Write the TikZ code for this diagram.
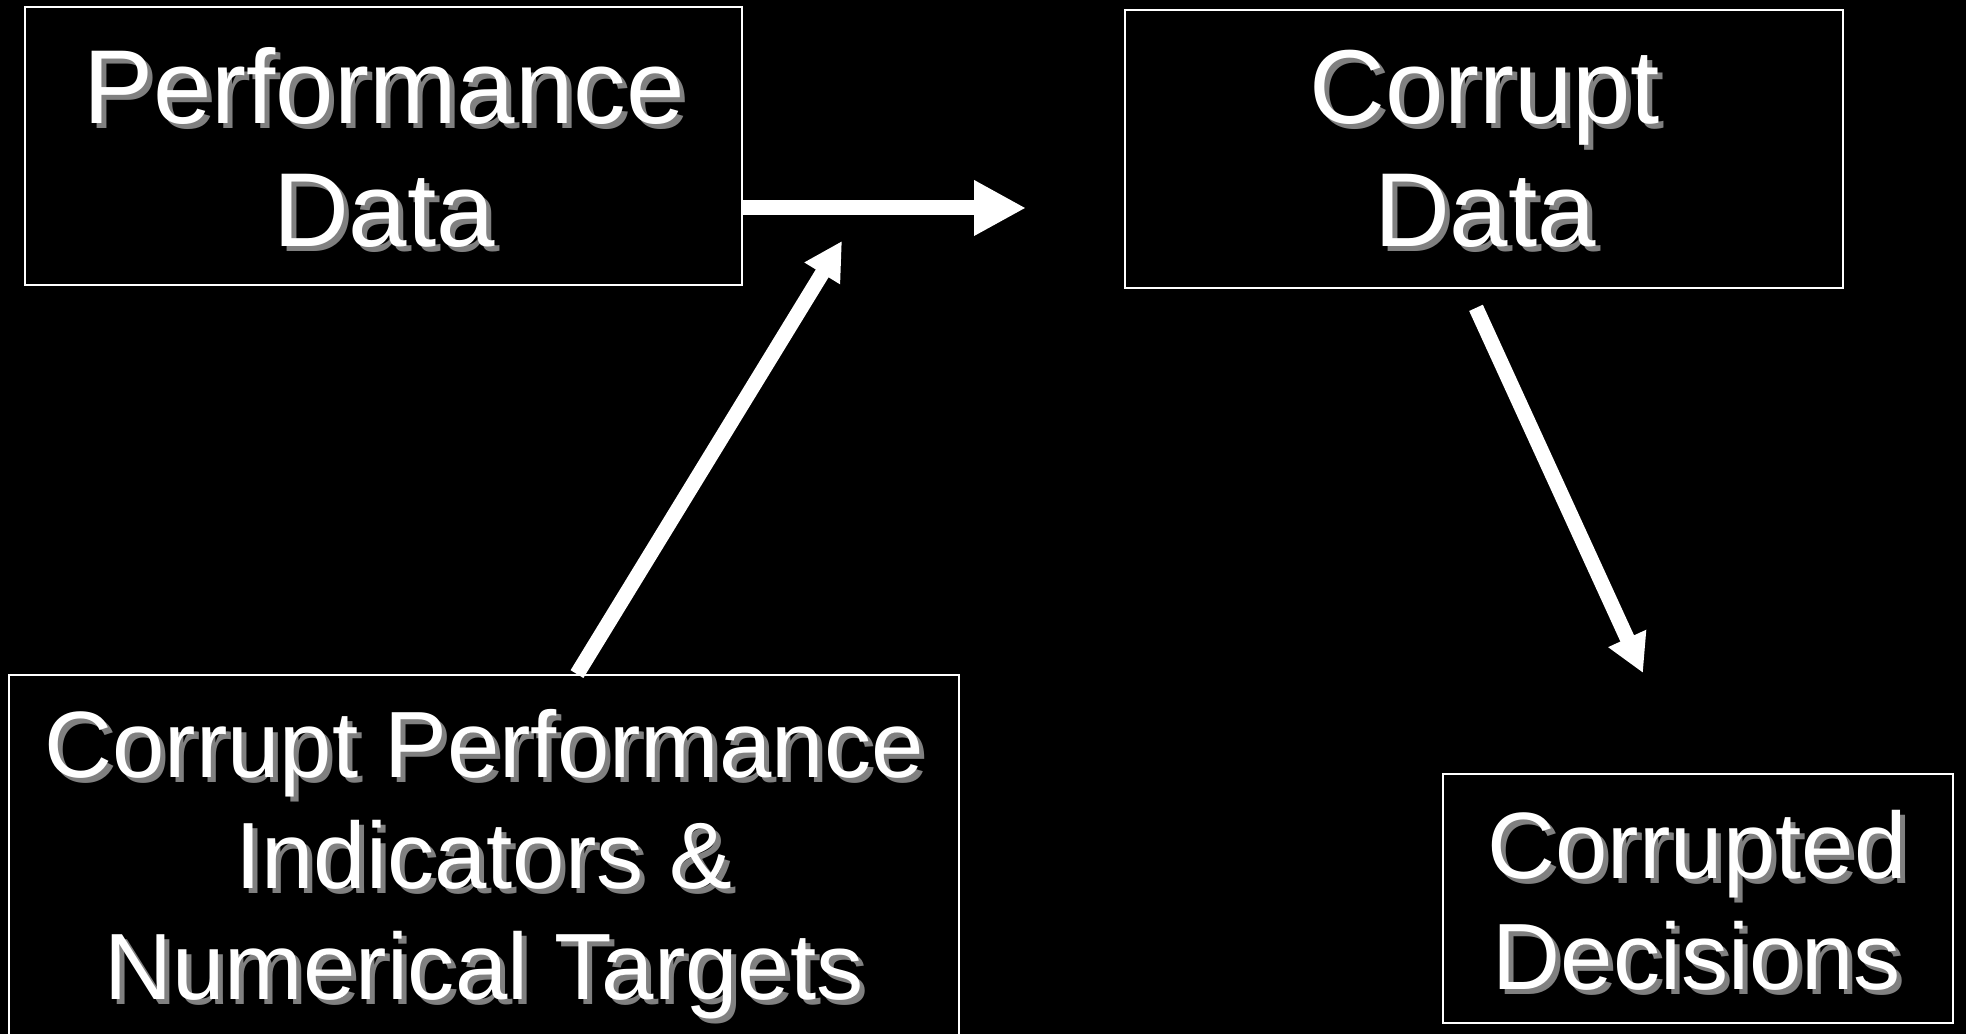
\documentclass[tikz,border=0pt]{standalone}
\usepackage{fontspec}
\setmainfont{Liberation Sans}
\usetikzlibrary{calc,arrows.meta}
\definecolor{shadowgray}{RGB}{128,128,128}
\newcommand\topsize{\fontsize{29.9}{35}\selectfont}
\newcommand\lowsize{\fontsize{26.8}{31.6}\selectfont}
\def\shadowtext(#1)(#2)[#3]#4{\node[txt, text=shadowgray, font=#3] (#2shadow) at ($(#1)+(0.05,-0.05)$) {#4}; \node[txt, font=#3] (#2) at (#1) {#4};}
\tikzset{
	box/.style={draw=white, line width=0.5pt, inner sep=0pt},
	txt/.style={text=white, align=center, inner sep=0pt},
	bigarrow/.style={draw=white, line width=0.15cm, -{Triangle[length=0.52cm, width=0.52cm]}},
	slantarrow/.style={draw=white, line width=0.15cm, -{Triangle[length=0.38cm, width=0.39cm]}}
}

\begin{document}
\begin{tikzpicture}
			%%%%% START %%%%%
			
			\fill[black] (0, 0) rectangle (19.66, 10.34);
			\clip (0, 0) rectangle (19.66, 10.34);
			
			\node[box, minimum width=7.17cm, minimum height=2.78cm] (pdata) at (3.835, 8.88) {};
			\shadowtext(3.84, 8.86)(pdatatext)[\topsize]{Performance\\Data}
			
			\node[box, minimum width=7.18cm, minimum height=2.78cm] (cdata) at (14.84, 8.85) {};
			\shadowtext(14.85, 8.85)(cdatatext)[\topsize]{Corrupt\\Data}
			
			\node[box, minimum width=9.50cm, minimum height=4.0cm] (cpi) at (4.84, 1.59) {};
			\shadowtext(4.84, 1.70)(cpitext)[\lowsize]{Corrupt Performance\\Indicators \&\\Numerical Targets}
			
			\node[box, minimum width=5.10cm, minimum height=2.49cm] (cdec) at (16.98, 1.355) {};
			\shadowtext(16.97, 1.34)(cdectext)[\lowsize]{Corrupted\\Decisions}
			
			\coordinate (tipA) at (10.26, 8.26);
			\coordinate (tipB) at (8.42, 7.93);
			\coordinate (tipC) at (16.43, 3.61);
			
			\draw[bigarrow] (pdata.east |- tipA) -- (tipA);
			\draw[slantarrow] ($(cpi.north)+(0.93, 0)$) -- (tipB);
			\draw[slantarrow] ($(cdata.south)+(-0.08, -0.19)$) -- (tipC);
			
			%%%%% END %%%%%
\end{tikzpicture}
\end{document}
